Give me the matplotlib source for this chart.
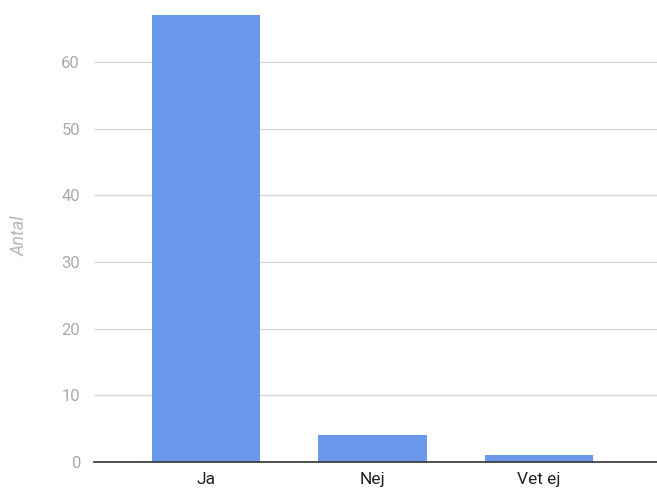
import matplotlib
matplotlib.use('Agg')
import matplotlib.pyplot as plt
import numpy as np

categories = ['Ja', 'Nej', 'Vet ej']
values = [67, 4, 1]
yticks = [0, 10, 20, 30, 40, 50, 60]

plt.rcParams['font.family'] = ['Roboto', 'DejaVu Sans']

fig = plt.figure(figsize=(6.57, 4.93), dpi=100)
ax = fig.add_axes([94 / 657, 1 - 462 / 493, 1 - 94 / 657, 453.3 / 493])

x = np.arange(len(categories))
ax.bar(x, values, width=0.65, color='#6a99ec', zorder=3)

ax.set_xlim(-0.673, 2.71)
ax.set_ylim(0, 68)
ax.set_yticks(yticks)
ax.set_xticks(x)
ax.set_xticklabels(categories, fontsize=12.5, color='#222222')
ax.tick_params(axis='y', length=0, pad=10, labelsize=12, labelcolor='#aaaaaa')
ax.tick_params(axis='x', length=0, pad=7)
ax.grid(axis='y', color='#d9d9d9', linewidth=1, zorder=0)

for s in ['top', 'right', 'left']:
    ax.spines[s].set_visible(False)
ax.spines['bottom'].set_color('#333333')
ax.spines['bottom'].set_linewidth(1.2)
ax.spines['bottom'].set_zorder(4)

fig.text(20 / 657, 1 - 236 / 493, 'Antal', rotation=90, style='italic',
         color='#b7b7b7', fontsize=13, ha='center', va='center')

fig.savefig('out.png', dpi=100)
